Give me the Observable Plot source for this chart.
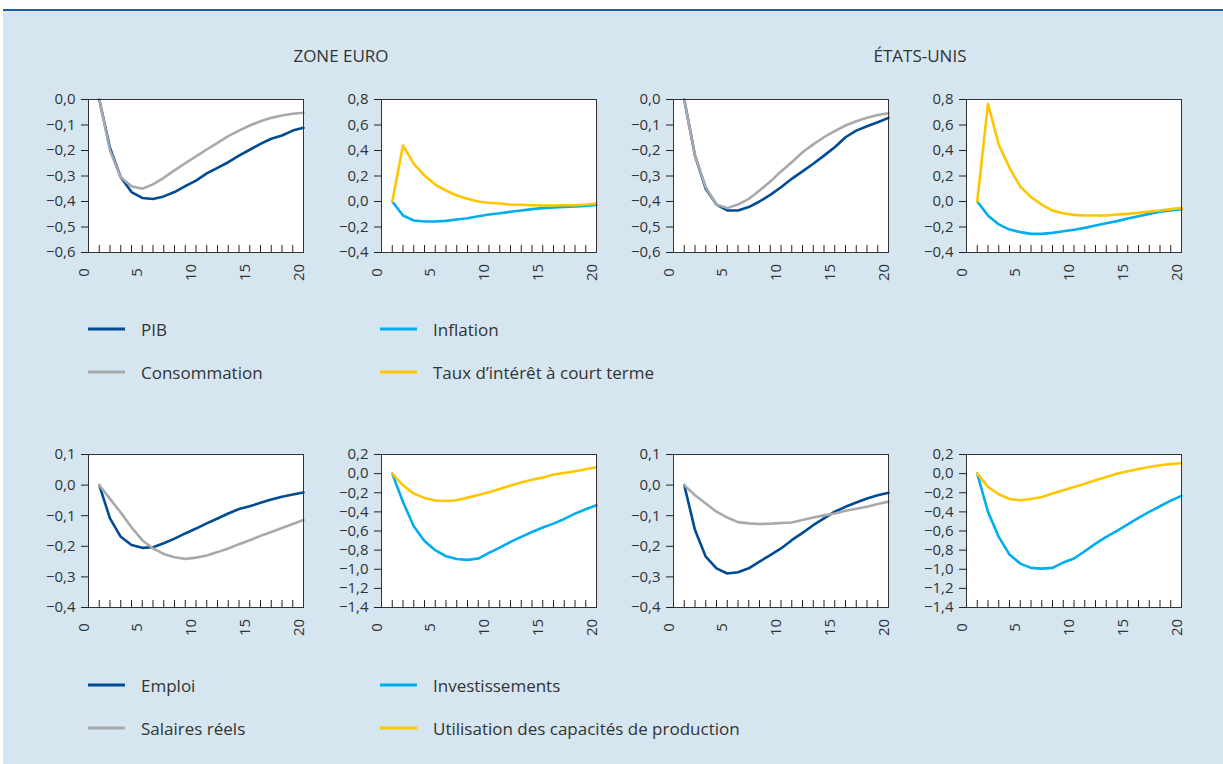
<!DOCTYPE html>
<html lang="fr">
<head>
<meta charset="utf-8">
<script src="https://cdn.jsdelivr.net/npm/d3@7"></script>
<script src="https://cdn.jsdelivr.net/npm/@observablehq/plot@0.6"></script>
<style>
  body { margin: 0; background: #fff; font-family: "Open Sans", sans-serif; color: #333; }
  #page { position: relative; width: 1223px; height: 764px; overflow: hidden; }
  #bg { position: absolute; left: 3px; top: 11px; right: 0; bottom: 0; background: #d5e6f0; }
  #rule { position: absolute; left: 3px; top: 9px; right: 0; height: 2px; background: #1d5ea6; }
  .title { position: absolute; font-size: 17px; transform: translate(-50%, -50%); white-space: nowrap; }
  .panel { position: absolute; }
  .leg { position: absolute; font-size: 17px; white-space: nowrap; transform: translateY(-50%); }
  .sw { position: absolute; height: 3px; width: 37px; transform: translateY(-50%); }
</style>
</head>
<body>
<div id="page">
  <div id="bg"></div>
  <div id="rule"></div>
</div>
<script>
// Horizon (quarters) and axis ticks
const periods = d3.range(1, 21);
const xTicks = d3.range(1, 21);
const xLabels = [0, 5, 10, 15, 20];

const ticksOutput = [0.0, -0.1, -0.2, -0.3, -0.4, -0.5, -0.6];
const ticksPrices = [0.8, 0.6, 0.4, 0.2, 0.0, -0.2, -0.4];
const ticksLabour = [0.1, 0.0, -0.1, -0.2, -0.3, -0.4];
const ticksCapital = [0.2, 0.0, -0.2, -0.4, -0.6, -0.8, -1.0, -1.2, -1.4];

const groupTitles = ["ZONE EURO", "ÉTATS-UNIS"];

// Series names and colours
const names = {
  pib: "PIB", conso: "Consommation", infl: "Inflation", taux: "Taux d’intérêt à court terme",
  emploi: "Emploi", salaires: "Salaires réels", invest: "Investissements",
  util: "Utilisation des capacités de production"
};
const colors = {
  pib: "#004b93", conso: "#a7a9ac", infl: "#00aeef", taux: "#ffc600",
  emploi: "#004b93", salaires: "#a7a9ac", invest: "#00aeef", util: "#ffc600"
};

// Zone euro responses
const euroPib = [0.0, -0.19, -0.305, -0.363, -0.386, -0.39, -0.38, -0.363, -0.34, -0.318, -0.29, -0.268, -0.246, -0.22, -0.197, -0.174, -0.154, -0.141, -0.122, -0.111];
const euroConso = [0.0, -0.2, -0.305, -0.34, -0.35, -0.333, -0.307, -0.278, -0.25, -0.223, -0.196, -0.17, -0.144, -0.122, -0.102, -0.085, -0.072, -0.063, -0.056, -0.052];
const euroInfl = [0.0, -0.11, -0.149, -0.157, -0.157, -0.152, -0.141, -0.131, -0.115, -0.102, -0.092, -0.081, -0.071, -0.06, -0.052, -0.047, -0.042, -0.039, -0.034, -0.026];
const euroTaux = [0.0, 0.439, 0.295, 0.204, 0.133, 0.086, 0.047, 0.021, 0.0, -0.01, -0.016, -0.024, -0.026, -0.029, -0.031, -0.031, -0.029, -0.029, -0.024, -0.016];
const euroEmploi = [0.0, -0.109, -0.169, -0.196, -0.205, -0.203, -0.19, -0.175, -0.158, -0.142, -0.125, -0.109, -0.093, -0.078, -0.069, -0.058, -0.047, -0.038, -0.031, -0.024];
const euroSalaires = [0.0, -0.045, -0.09, -0.138, -0.18, -0.207, -0.225, -0.236, -0.241, -0.237, -0.23, -0.219, -0.207, -0.193, -0.18, -0.166, -0.153, -0.14, -0.127, -0.114];
const euroInvest = [0.0, -0.296, -0.55, -0.704, -0.801, -0.864, -0.892, -0.902, -0.888, -0.829, -0.773, -0.714, -0.662, -0.61, -0.564, -0.523, -0.474, -0.418, -0.373, -0.331];
const euroUtil = [0.0, -0.122, -0.209, -0.254, -0.282, -0.286, -0.279, -0.251, -0.223, -0.195, -0.16, -0.125, -0.094, -0.063, -0.042, -0.01, 0.007, 0.024, 0.045, 0.066];

// États-Unis responses
const usPib = [0.0, -0.22, -0.35, -0.412, -0.435, -0.435, -0.422, -0.4, -0.374, -0.344, -0.311, -0.282, -0.252, -0.22, -0.187, -0.148, -0.122, -0.105, -0.089, -0.072];
const usConso = [0.0, -0.22, -0.344, -0.412, -0.426, -0.412, -0.39, -0.357, -0.322, -0.282, -0.246, -0.207, -0.176, -0.148, -0.124, -0.102, -0.085, -0.072, -0.061, -0.054];
const usInfl = [0.0, -0.11, -0.18, -0.22, -0.24, -0.254, -0.254, -0.246, -0.233, -0.222, -0.207, -0.188, -0.17, -0.154, -0.133, -0.115, -0.097, -0.081, -0.071, -0.06];
const usTaux = [0.0, 0.766, 0.447, 0.264, 0.118, 0.034, -0.024, -0.071, -0.092, -0.105, -0.11, -0.11, -0.11, -0.102, -0.097, -0.089, -0.078, -0.071, -0.06, -0.05];
const usEmploi = [0.0, -0.147, -0.234, -0.272, -0.289, -0.285, -0.272, -0.25, -0.229, -0.207, -0.18, -0.156, -0.131, -0.109, -0.087, -0.071, -0.057, -0.044, -0.033, -0.025];
const usSalaires = [0.0, -0.033, -0.06, -0.087, -0.106, -0.121, -0.125, -0.127, -0.126, -0.124, -0.122, -0.114, -0.106, -0.099, -0.093, -0.084, -0.077, -0.071, -0.062, -0.054];
const usInvest = [0.0, -0.4, -0.662, -0.847, -0.941, -0.986, -0.993, -0.986, -0.93, -0.888, -0.812, -0.732, -0.662, -0.599, -0.53, -0.463, -0.401, -0.341, -0.282, -0.233];
const usUtil = [0.0, -0.139, -0.216, -0.265, -0.279, -0.265, -0.244, -0.209, -0.174, -0.139, -0.105, -0.07, -0.035, 0.0, 0.024, 0.049, 0.07, 0.087, 0.101, 0.108];

const page = document.getElementById("page");
const fmt = d => d3.format(".1f")(d).replace(".", ",");

const W = 290, H = 198, ML = 50, MR = 25, MT = 10, MB = 35;
const innerH = H - MT - MB;

function panel(left, top, ticks, series) {
  const marks = [
    Plot.frame({fill: "white", stroke: null}),
    Plot.ruleX(xTicks, {x: d => d, insetTop: innerH - 7, stroke: "#222", strokeWidth: 1}),
    Plot.axisY({ticks, tickSize: 7, tickPadding: 6, tickFormat: fmt, fontSize: 15, stroke: "#222"}),
    ...series.map(([key, values]) =>
      Plot.line(values, {x: periods, y: values, stroke: colors[key], strokeWidth: 2.6})),
    Plot.text(xLabels, {x: d => d, frameAnchor: "bottom", dy: 20, rotate: -90, fontSize: 15, fill: "#333"}),
    Plot.frame({stroke: "#333", strokeWidth: 1})
  ];
  const svg = Plot.plot({
    width: W, height: H,
    marginLeft: ML, marginRight: MR, marginTop: MT, marginBottom: MB,
    x: {domain: [0, 20], axis: null},
    y: {domain: [d3.min(ticks), d3.max(ticks)]},
    style: {background: "transparent", fontFamily: "'Open Sans', sans-serif", fontSize: "15px", color: "#333", overflow: "visible"},
    marks
  });
  svg.classList.add("panel");
  svg.style.left = left + "px";
  svg.style.top = top + "px";
  page.appendChild(svg);
}

const cols = [38, 331, 623, 916];
const rowTop = [89, 444];

panel(cols[0], rowTop[0], ticksOutput, [["pib", euroPib], ["conso", euroConso]]);
panel(cols[1], rowTop[0], ticksPrices, [["infl", euroInfl], ["taux", euroTaux]]);
panel(cols[2], rowTop[0], ticksOutput, [["pib", usPib], ["conso", usConso]]);
panel(cols[3], rowTop[0], ticksPrices, [["infl", usInfl], ["taux", usTaux]]);

panel(cols[0], rowTop[1], ticksLabour, [["emploi", euroEmploi], ["salaires", euroSalaires]]);
panel(cols[1], rowTop[1], ticksCapital, [["invest", euroInvest], ["util", euroUtil]]);
panel(cols[2], rowTop[1], ticksLabour, [["emploi", usEmploi], ["salaires", usSalaires]]);
panel(cols[3], rowTop[1], ticksCapital, [["invest", usInvest], ["util", usUtil]]);

// Group titles
[[groupTitles[0], 341], [groupTitles[1], 920]].forEach(([t, cx]) => {
  const d = document.createElement("div");
  d.className = "title";
  d.textContent = t;
  d.style.left = cx + "px";
  d.style.top = "55px";
  page.appendChild(d);
});

// Legends
function legend(items, y0) {
  items.forEach((key, i) => {
    const col = Math.floor(i / 2), row = i % 2;
    const sx = col === 0 ? 88 : 380;
    const y = y0 + row * 43;
    const sw = document.createElement("div");
    sw.className = "sw";
    sw.style.left = sx + "px";
    sw.style.top = y + "px";
    sw.style.background = colors[key];
    page.appendChild(sw);
    const t = document.createElement("div");
    t.className = "leg";
    t.style.left = (sx + 53) + "px";
    t.style.top = y + "px";
    t.textContent = names[key];
    page.appendChild(t);
  });
}
legend(["pib", "conso", "infl", "taux"], 329);
legend(["emploi", "salaires", "invest", "util"], 685);
</script>
</body>
</html>
